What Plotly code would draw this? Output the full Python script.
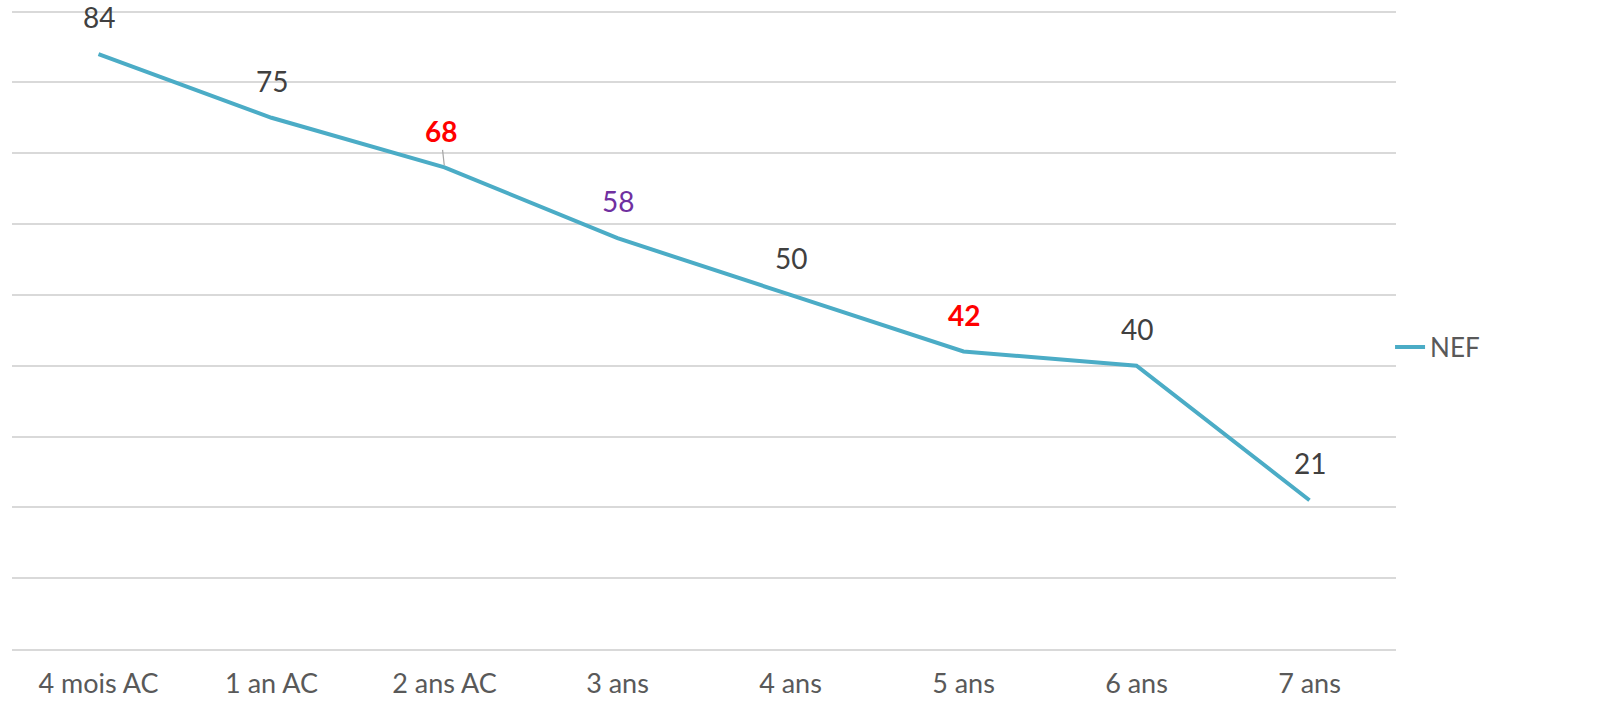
import plotly.graph_objects as go

categories = ["4 mois AC", "1 an AC", "2 ans AC", "3 ans", "4 ans", "5 ans", "6 ans", "7 ans"]
values = [84, 75, 68, 58, 50, 42, 40, 21]
label_colors = ["#404040", "#404040", "#FF0000", "#7030A0", "#404040", "#FF0000", "#404040", "#404040"]
label_bold = [False, False, True, False, False, True, False, False]
series_name = "NEF"
grid_values = [0, 10, 20, 30, 40, 50, 60, 70, 80, 90]

FONT = "Lato, 'Open Sans', sans-serif"
FS = 28

fig = go.Figure()
fig.add_trace(go.Scatter(
    x=categories, y=values, mode="lines", name=series_name,
    line=dict(color="#4BACC6", width=4), showlegend=True,
))

for i, (c, v) in enumerate(zip(categories, values)):
    txt = f"<b>{v}</b>" if label_bold[i] else str(v)
    if i == 2:
        fig.add_annotation(x=c, y=v, text=txt, showarrow=True, arrowhead=0,
                           arrowcolor="#A6A6A6", arrowwidth=1.2, ax=-4, ay=-36,
                           standoff=2,
                           font=dict(family=FONT, size=FS, color=label_colors[i]))
    else:
        fig.add_annotation(x=c, y=v, text=txt, showarrow=False, yshift=37,
                           font=dict(family=FONT, size=FS, color=label_colors[i]))

fig.update_layout(
    width=1606, height=721,
    margin=dict(l=12, r=210, t=8, b=72),
    paper_bgcolor="white", plot_bgcolor="white",
    font=dict(family=FONT, size=FS, color="#595959"),
    legend=dict(x=0.9957, y=0.471, xanchor="left", yanchor="middle",
                font=dict(family=FONT, size=FS - 2, color="#595959"),
                itemwidth=30, bgcolor="rgba(0,0,0,0)"),
    xaxis=dict(range=[-0.5, 7.5], showgrid=False, showline=True, linecolor="#D9D9D9", linewidth=1.5,
               ticks="", automargin=False, ticklabelstandoff=10,
               tickfont=dict(family=FONT, size=FS - 1, color="#595959")),
    yaxis=dict(range=[0, 90.5], tickvals=grid_values, showgrid=True,
               gridcolor="#D9D9D9", gridwidth=1.5,
               showticklabels=False, zeroline=False, showline=False, automargin=False),
)

fig.write_html("out.html", config={"displayModeBar": False},
               post_script="document.body.style.margin='0';document.body.style.overflow='hidden';")
